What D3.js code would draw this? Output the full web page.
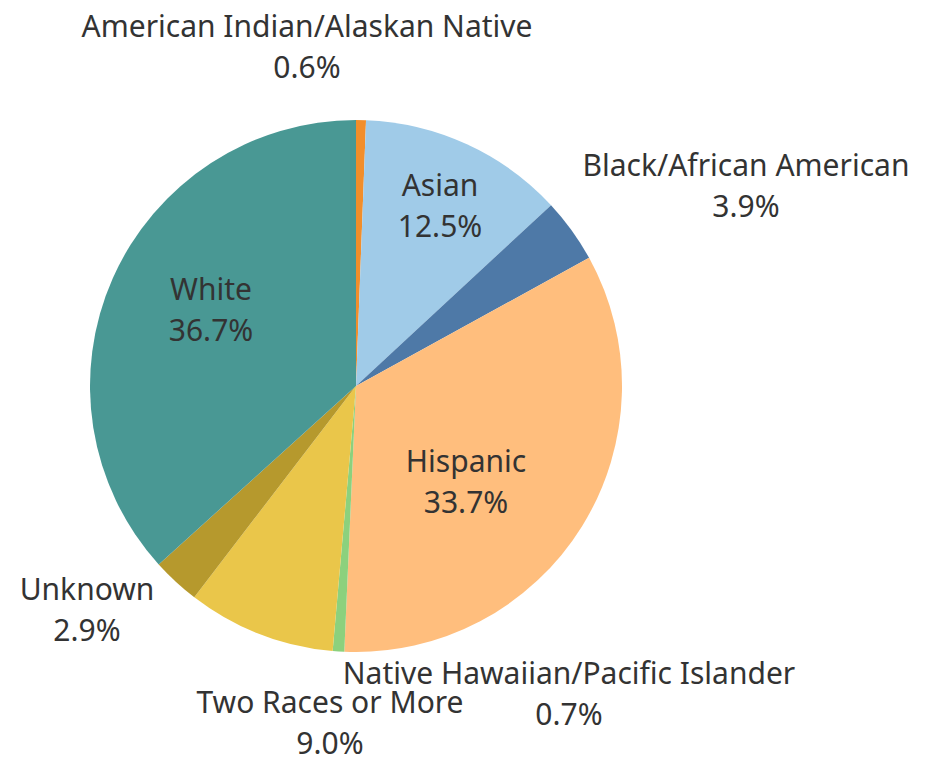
<!DOCTYPE html>
<html><head><meta charset="utf-8">
<script src="https://cdn.jsdelivr.net/npm/d3@7/dist/d3.min.js"></script>
<style>body{margin:0;background:#fff}</style>
</head><body>
<svg id="c" width="927" height="762"></svg>
<script>
const categories = ["American Indian/Alaskan Native","Asian","Black/African American","Hispanic","Native Hawaiian/Pacific Islander","Two Races or More","Unknown","White"];
const values = [0.6,12.5,3.9,33.7,0.7,9.0,2.9,36.7];
const colors = ["#f28e2b","#a0cbe8","#4e79a7","#ffbe7d","#8cd17d","#eac64a","#b6992d","#499894"];
// label anchor positions (center x, first-line baseline y)
const labelPos = [[307,37],[440,196],[746,176],[466,472],[569,684],[330,713],[87,600],[211,300]];

const svg = d3.select("#c");
const cx = 356, cy = 386, r = 266;
const pie = d3.pie().sort(null).value(d => d)(values);
const arc = d3.arc().innerRadius(0).outerRadius(r);
const g = svg.append("g").attr("transform", `translate(${cx},${cy})`);
g.selectAll("path").data(pie).join("path")
  .attr("d", arc).attr("fill", (d,i) => colors[i]);

const fmt = d3.format(".1f");
const lg = svg.append("g").attr("font-family","'Noto Sans', sans-serif").attr("font-size",30).attr("fill","#333").attr("text-anchor","middle");
categories.forEach((c,i) => {
  const t = lg.append("text").attr("x", labelPos[i][0]).attr("y", labelPos[i][1]);
  t.append("tspan").attr("x", labelPos[i][0]).text(c);
  t.append("tspan").attr("x", labelPos[i][0]).attr("dy", 41).text(fmt(values[i]) + "%");
});
</script>
</body></html>
